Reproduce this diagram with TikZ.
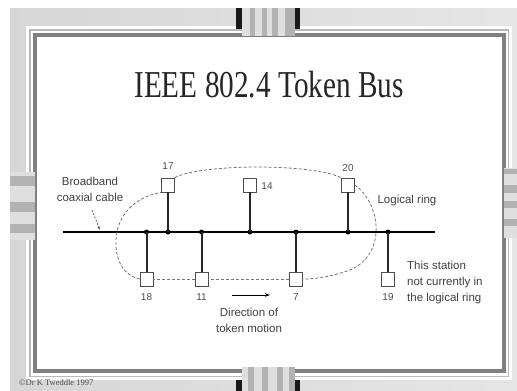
\documentclass[tikz,border=0pt]{standalone}
\usepackage{fontspec}
\usepackage{graphicx}
\setmainfont{Liberation Serif}
\setsansfont{Liberation Sans}
\usetikzlibrary{arrows.meta}
\begin{document}
\begin{tikzpicture}[x=1pt,y=-1pt,
  stn/.style={draw=black!70, fill=white, line width=0.8pt, minimum width=13pt, minimum height=14pt, inner sep=0pt},
  stub/.style={line width=2pt, draw=black!85},
  ring/.style={draw=black!55, line width=0.8pt, dash pattern=on 3pt off 2pt},
  lbl/.style={font=\sffamily\fontsize{11.5}{16}\selectfont, text=black!75, inner sep=0pt},
  num/.style={font=\sffamily\fontsize{10}{12}\selectfont, text=black!70, inner sep=0pt},
  jdot/.style={circle, fill=black, inner sep=0pt, minimum size=5pt},
  tabl/.style={fill=gray!25},
  tabd/.style={fill=gray!60},
  tabk/.style={fill=black!90}]
\useasboundingbox (0,0) rectangle (517,391);
% background
\fill[white] (0,0) rectangle (517,391);
\shade[left color=gray!32, middle color=gray!8, right color=gray!20] (10,8) rectangle (517,391);
% frame
\fill[white] (26,26) rectangle (512,380);
\draw[gray!55, line width=1.6pt] (29.8,29.8) rectangle (508.5,376.5);
\draw[black!50, line width=4pt] (35,35) rectangle (504,370.5);
% top tab
\fill[tabk] (236,8) rectangle (242,29);
\fill[tabk] (295,8) rectangle (300,29);
\fill[tabl] (242,8) rectangle (295,36);
\fill[tabd] (250,8) rectangle (255,36);
\fill[tabd] (262,8) rectangle (267,36);
\fill[tabd] (272,8) rectangle (278,36);
\fill[tabd] (285,8) rectangle (295,36);
% bottom tab
\fill[tabk] (236,380) rectangle (242,391);
\fill[tabk] (295,380) rectangle (300,391);
\fill[tabl] (242,367) rectangle (295,391);
\fill[tabd] (248,367) rectangle (254,391);
\fill[tabd] (262,367) rectangle (268,391);
\fill[tabd] (277,367) rectangle (283,391);
\fill[tabd] (289,367) rectangle (295,391);
% left tab
\fill[tabl] (10,172) rectangle (35,240);
\fill[tabd] (10,176) rectangle (35,186);
\fill[tabd] (10,202) rectangle (35,212);
\fill[tabd] (10,224) rectangle (35,233);
% right tab
\fill[tabl] (504,168) rectangle (517,238);
\fill[tabd] (504,169) rectangle (517,174);
\fill[tabd] (504,185) rectangle (517,193);
\fill[tabd] (504,201) rectangle (517,208);
\fill[tabd] (504,219) rectangle (517,226);
% title
\node[anchor=base, inner sep=0pt, text=black!85] (title) at (269,97)
  {\scalebox{0.77}[1]{\fontsize{38}{40}\selectfont IEEE 802.4 Token Bus}};
% bus
\coordinate (busL) at (63,232);
\coordinate (busR) at (435,232);
\draw[line width=1.3pt, black] (busL) -- (busR);
% stations
\node[stn] (s17) at (168,185) {};
\node[stn] (s14) at (250,185) {};
\node[stn] (s20) at (348,185) {};
\node[stn] (s18) at (146.5,279) {};
\node[stn] (s11) at (201.5,279) {};
\node[stn] (s7) at (296,279) {};
\node[stn] (s19) at (388,279) {};
% junctions
\node[jdot] (d17) at (168,232) {};
\node[jdot] (d14) at (250,232) {};
\node[jdot] (d20) at (348,232) {};
\node[jdot] (d18) at (146.5,232) {};
\node[jdot] (d11) at (201.5,232) {};
\node[jdot] (d7) at (296,232) {};
\node[jdot] (d19) at (388,232) {};
\draw[stub] (s17.south) -- (d17.center);
\draw[stub] (s14.south) -- (d14.center);
\draw[stub] (s20.south) -- (d20.center);
\draw[stub] (d18.center) -- (s18.north);
\draw[stub] (d11.center) -- (s11.north);
\draw[stub] (d7.center) -- (s7.north);
\draw[stub] (d19.center) -- (s19.north);
% numbers
\node[num] (n17) at (168,166) {17};
\node[num] (n14) at (267,186) {14};
\node[num] (n20) at (348,168) {20};
\node[num] (n18) at (146.5,297) {18};
\node[num] (n11) at (201.5,297) {11};
\node[num] (n7) at (296,297) {7};
\node[num] (n19) at (388,297) {19};
% logical ring
\draw[ring] (s17.north east) .. controls (200,164) and (310,163) .. (s20.north west);
\draw[ring] (s20.east) .. controls (382,205) and (386,255) .. (350,270) .. controls (330,277) and (315,279) .. (s7.east);
\draw[ring] (s7.west) -- (s11.east);
\draw[ring] (s11.west) -- (s18.east);
\draw[ring] (s18.west) .. controls (125,276) and (115,262) .. (116,240) .. controls (117,215) and (135,197) .. (s17.south west);
% labels
\node[lbl, align=center] (bb) at (90,189) {Broadband\\coaxial cable};
\coordinate (bbA) at (92,210);
\coordinate (bbB) at (100,230);
\draw[black!60, line width=0.8pt, dash pattern=on 2pt off 1.5pt, -{Stealth[length=4pt,width=3pt]}] (bbA) -- (bbB);
\node[lbl] (lr) at (407,201) {Logical ring};
\node[lbl, align=left, anchor=west] (nc) at (407,283) {This station\\not currently in\\the logical ring};
\node[lbl, align=center] (dir) at (249,320) {Direction of\\token motion};
\coordinate (arA) at (232,295);
\coordinate (arB) at (270,295);
\draw[black, line width=0.8pt, -{Stealth[length=5pt,width=3.5pt]}] (arA) -- (arB);
% copyright
\node[anchor=west, inner sep=0pt, text=black!70] (copy) at (19,383) {\fontsize{8.5}{9}\selectfont ©Dr K Tweddle 1997};
\end{tikzpicture}
\end{document}
